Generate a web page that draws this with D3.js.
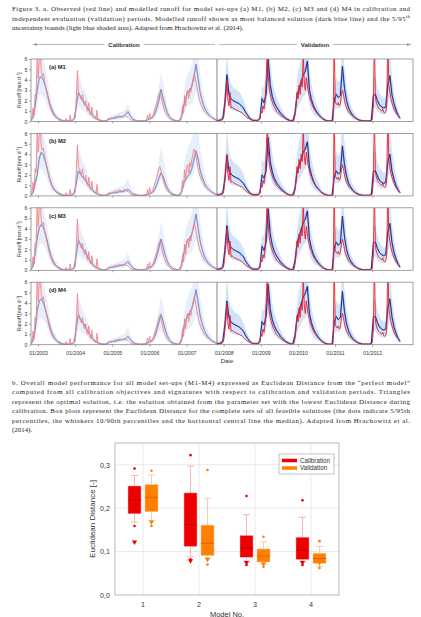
<!DOCTYPE html>
<html>
<head>
<meta charset="utf-8">
<script src="https://cdn.jsdelivr.net/npm/d3@7"></script>
<style>
body { margin: 0; background: #fff; }
svg { display: block; }
</style>
</head>
<body>
<svg id="fig" width="421" height="617"></svg>
<script>
// ---- observed runoff, 10-day steps from late Oct 2002 (one hydrological year per row) ----
var obsRunoff = [
  0.1,0.3,1.3,0.6,2.6,2.3,6.5,4.2,5.8,6.5,4.8,4.4,4.6,3.9,3.4,3.0,2.5,2.0,1.6,1.3,1.0,0.8,0.6,0.5,0.4,0.3,0.2,0.15,0.1,0.05,0.05,0.1,0.05,0.05,0.3,0.1,
  0.05,0.05,0.6,0.05,0.1,0.1,0.2,0.4,2.5,4.9,2.8,2.6,2.3,2.1,2.6,1.8,1.5,2.0,1.2,1.0,1.8,0.8,0.6,1.4,0.5,0.35,0.3,0.2,1.1,0.15,0.1,0.05,0.05,0.05,0.05,0.05,
  0.05,0.05,0.2,0.3,0.25,0.3,0.25,0.3,0.4,0.45,0.5,0.45,0.5,0.5,0.6,0.5,0.45,0.5,0.55,0.6,0.5,0.45,0.4,0.3,0.2,0.15,0.1,0.05,0.05,0.05,0.05,0.05,0.05,0.05,0.05,0.05,
  0.05,0.05,0.1,0.05,0.1,0.6,0.2,0.8,0.3,0.3,0.5,0.8,1.2,1.5,1.8,2.2,2.6,2.8,2.5,2.0,1.6,1.2,0.9,0.7,0.5,0.4,0.3,0.2,0.15,0.1,0.05,0.05,0.05,0.05,0.05,0.05,
  0.05,0.1,0.3,1.5,0.8,2.5,1.5,2.8,3.0,2.2,3.2,2.8,3.5,4.0,4.5,4.3,3.8,3.2,2.7,2.2,1.9,1.6,1.4,1.2,1.0,0.9,0.8,0.7,0.6,0.5,0.45,0.4,0.3,0.25,0.2,0.15,
  0.1,0.1,0.1,0.1,0.15,0.1,0.2,0.5,1.5,2.5,4.0,2.0,1.5,2.8,1.3,1.4,1.3,1.2,1.2,1.1,1.1,1.0,1.0,0.9,0.9,0.8,0.7,0.6,0.5,0.4,0.35,0.3,0.25,0.2,0.15,0.1,
  0.1,0.1,0.1,0.1,0.1,0.15,0.3,1.0,0.8,1.5,1.2,2.0,4.0,7.0,4.5,3.2,2.6,2.2,1.9,1.6,1.4,1.2,1.0,0.9,0.8,0.7,0.6,0.5,0.45,0.4,0.3,0.25,0.2,0.15,0.1,0.1,
  0.05,0.05,0.05,0.1,0.6,1.5,2.8,2.2,3.5,2.6,4.0,3.3,6.5,3.8,3.0,4.2,3.5,2.8,2.4,2.0,1.8,1.5,1.3,1.1,1.0,0.8,0.7,0.6,0.5,0.4,0.3,0.25,0.2,0.15,0.1,0.1,
  0.05,0.05,0.05,0.05,0.05,0.1,8,2.0,1.7,1.6,1.8,1.5,1.7,2.5,3.0,2.6,2.0,1.6,1.3,1.1,0.9,0.8,0.7,0.6,0.5,0.4,0.35,0.3,0.25,0.2,0.15,0.1,0.1,0.05,0.05,0.05,
  0.05,0.05,0.05,0.05,0.05,0.05,0.1,0.2,1.5,8,2.2,1.8,1.5,1.3,1.2,1.1,1.0,1.2,0.9,0.8,0.9,1.5,8,3.5,2.8,2.2,1.8,1.5,1.2,1.0,0.8,0.7,0.6,0.4,null,null
];

// ---- modelled runoff (most balanced solution), 20-day steps, one row per year ----
var modM1 = [
  0.1,0.4,1.5,3.0,4.2,4.3,4.0,3.4,2.6,1.8,1.2,0.8,0.5,0.3,0.2,0.1,0.05,0.05,
  0.05,0.05,0.1,0.3,1.5,2.8,2.4,2.0,1.8,1.5,1.1,0.8,0.6,0.4,0.25,0.15,0.1,0.05,
  0.05,0.1,0.25,0.3,0.3,0.35,0.4,0.45,0.45,0.5,0.7,0.95,0.6,0.3,0.15,0.1,0.05,0.05,
  0.05,0.05,0.1,0.2,0.3,0.4,0.7,1.3,2.0,3.1,2.3,1.5,0.9,0.5,0.3,0.15,0.1,0.05,
  0.1,0.5,1.5,2.2,2.8,3.0,3.4,4.2,5.5,4.2,2.8,2.0,1.4,1.0,0.7,0.5,0.35,0.25,
  0.1,0.1,0.15,0.3,1.8,4.5,2.6,2.2,2.0,1.9,1.8,1.7,1.5,1.3,0.9,0.6,0.35,0.15,
  0.1,0.1,0.1,0.3,2.2,1.8,2.6,6.0,3.5,2.4,1.8,1.4,1.1,0.8,0.6,0.4,0.25,0.15,
  0.05,0.1,0.8,2.5,3.2,3.8,4.5,4.8,5.8,3.0,2.1,1.5,1.1,0.8,0.55,0.35,0.2,0.1,
  0.05,0.05,0.05,2.0,2.6,2.3,2.5,5.3,3.2,2.0,1.3,0.9,0.6,0.4,0.25,0.15,0.1,0.05,
  0.05,0.05,0.05,0.1,2.5,2.6,2.0,1.6,1.4,1.3,1.4,3.5,4.4,2.6,1.7,1.1,0.6,0.3
];
var modM2 = [
  0.1,0.3,1.2,2.0,3.6,4.2,3.9,3.3,2.5,1.7,1.1,0.7,0.45,0.3,0.2,0.1,0.05,0.05,
  0.05,0.05,0.1,0.3,1.3,2.4,2.1,1.8,1.6,1.3,1.0,0.7,0.5,0.35,0.2,0.12,0.08,0.05,
  0.05,0.1,0.2,0.25,0.3,0.3,0.35,0.4,0.4,0.45,0.55,0.6,0.45,0.25,0.15,0.1,0.05,0.05,
  0.05,0.05,0.1,0.15,0.25,0.35,0.6,1.1,1.7,2.2,1.9,1.3,0.8,0.45,0.25,0.15,0.1,0.05,
  0.1,0.4,1.2,1.6,1.9,2.1,2.6,3.5,4.3,3.6,2.5,1.8,1.3,0.9,0.65,0.45,0.3,0.2,
  0.1,0.1,0.15,0.3,1.6,3.9,2.4,2.1,1.9,1.8,1.7,1.6,1.4,1.2,0.85,0.55,0.3,0.15,
  0.1,0.1,0.1,0.3,2.0,1.7,2.4,5.6,3.3,2.3,1.7,1.3,1.0,0.75,0.55,0.35,0.2,0.12,
  0.05,0.1,0.7,2.3,3.0,3.5,4.2,4.5,5.2,2.8,2.0,1.4,1.0,0.75,0.5,0.3,0.2,0.1,
  0.05,0.05,0.05,1.8,2.4,2.1,2.3,4.8,3.0,1.9,1.2,0.85,0.55,0.35,0.22,0.12,0.08,0.05,
  0.05,0.05,0.05,0.1,2.3,2.4,1.9,1.5,1.3,1.2,1.3,3.2,4.0,2.4,1.6,1.0,0.55,0.3
];
var modM3 = [
  0.1,0.4,1.6,3.1,4.1,4.4,4.1,3.5,2.7,1.9,1.2,0.8,0.5,0.3,0.2,0.1,0.05,0.05,
  0.05,0.05,0.1,0.3,1.6,2.9,2.5,2.1,1.8,1.5,1.1,0.8,0.55,0.35,0.22,0.14,0.08,0.05,
  0.05,0.1,0.25,0.3,0.3,0.35,0.4,0.45,0.5,0.5,0.65,0.85,0.55,0.3,0.15,0.1,0.05,0.05,
  0.05,0.05,0.1,0.2,0.3,0.45,0.75,1.4,2.1,3.0,2.3,1.5,0.9,0.5,0.3,0.15,0.1,0.05,
  0.1,0.5,1.6,2.3,2.9,3.1,3.5,4.3,5.4,4.1,2.8,2.0,1.4,1.0,0.7,0.5,0.35,0.25,
  0.1,0.1,0.15,0.35,1.9,4.3,2.6,2.2,2.0,1.9,1.8,1.7,1.5,1.3,0.9,0.6,0.35,0.15,
  0.1,0.1,0.1,0.35,2.3,1.9,2.7,5.9,3.5,2.4,1.8,1.4,1.1,0.8,0.6,0.4,0.25,0.15,
  0.05,0.1,0.9,2.6,3.3,3.9,4.6,4.9,5.7,3.0,2.1,1.5,1.1,0.8,0.55,0.35,0.2,0.1,
  0.05,0.05,0.05,2.1,2.7,2.4,2.6,5.2,3.2,2.0,1.3,0.9,0.6,0.4,0.25,0.15,0.1,0.05,
  0.05,0.05,0.05,0.1,2.6,2.7,2.1,1.7,1.5,1.4,1.5,3.6,4.5,2.7,1.7,1.1,0.6,0.3
];
var modM4 = [
  0.1,0.4,1.5,3.2,4.2,4.4,4.0,3.4,2.6,1.9,1.2,0.8,0.5,0.3,0.2,0.1,0.05,0.05,
  0.05,0.05,0.1,0.3,1.7,2.9,2.5,2.1,1.9,1.5,1.1,0.8,0.55,0.35,0.22,0.14,0.08,0.05,
  0.05,0.1,0.25,0.3,0.3,0.35,0.4,0.45,0.5,0.5,0.6,0.8,0.55,0.3,0.15,0.1,0.05,0.05,
  0.05,0.05,0.1,0.2,0.3,0.45,0.8,1.4,2.1,2.9,2.3,1.5,0.9,0.5,0.3,0.15,0.1,0.05,
  0.1,0.5,1.6,2.3,2.8,3.1,3.5,4.2,5.3,4.1,2.8,2.0,1.4,1.0,0.7,0.5,0.35,0.25,
  0.1,0.1,0.15,0.35,1.9,4.2,2.6,2.2,2.0,1.9,1.8,1.7,1.5,1.3,0.9,0.6,0.35,0.15,
  0.1,0.1,0.1,0.35,2.2,1.9,2.7,5.8,3.4,2.4,1.8,1.4,1.1,0.8,0.6,0.4,0.25,0.15,
  0.05,0.1,0.9,2.6,3.3,3.9,4.6,4.9,5.6,3.0,2.1,1.5,1.1,0.8,0.55,0.35,0.2,0.1,
  0.05,0.05,0.05,2.1,2.7,2.4,2.6,5.1,3.2,2.0,1.3,0.9,0.6,0.4,0.25,0.15,0.1,0.05,
  0.05,0.05,0.05,0.1,2.6,2.7,2.1,1.7,1.5,1.4,1.5,3.5,4.4,2.7,1.7,1.1,0.6,0.3
];

// ---- 5/95th uncertainty bounds, 20-day steps ----
var bandLo = [
  0,0.1,0.6,1.5,2.5,2.6,2.4,2.0,1.5,1.0,0.6,0.4,0.25,0.15,0.1,0.05,0,0,
  0,0,0.05,0.1,0.7,1.5,1.3,1.1,1.0,0.8,0.6,0.4,0.3,0.2,0.1,0.05,0,0,
  0,0.03,0.1,0.15,0.15,0.15,0.2,0.2,0.2,0.25,0.35,0.5,0.3,0.15,0.05,0.03,0,0,
  0,0,0.03,0.1,0.15,0.2,0.35,0.7,1.1,1.6,1.2,0.8,0.5,0.25,0.15,0.05,0.03,0,
  0.03,0.2,0.7,1.1,1.5,1.6,1.8,2.3,3.0,2.3,1.5,1.0,0.7,0.5,0.35,0.25,0.15,0.1,
  0.03,0.03,0.05,0.1,0.9,2.4,1.4,1.1,1.0,1.0,0.9,0.9,0.8,0.6,0.4,0.25,0.15,0.05,
  0.03,0.03,0.03,0.1,1.0,0.9,1.3,3.2,1.8,1.2,0.9,0.7,0.55,0.4,0.3,0.2,0.1,0.05,
  0,0.03,0.3,1.2,1.6,2.0,2.4,2.6,3.0,1.5,1.0,0.7,0.5,0.4,0.25,0.15,0.1,0.03,
  0,0,0,0.9,1.3,1.2,1.3,2.8,1.6,1.0,0.6,0.45,0.3,0.2,0.12,0.06,0.03,0,
  0,0,0,0.03,1.3,1.3,1.0,0.8,0.7,0.7,0.7,1.8,2.3,1.4,0.9,0.55,0.3,0.15
];
var bandHi = [
  0.3,0.8,2.8,5.0,6.5,6.5,6.0,5.0,4.0,2.8,1.9,1.3,0.9,0.6,0.4,0.25,0.15,0.1,
  0.1,0.15,0.3,0.7,3.0,4.5,4.0,3.3,3.0,2.5,1.8,1.3,1.0,0.7,0.45,0.3,0.2,0.1,
  0.1,0.2,0.5,0.6,0.6,0.7,0.8,0.9,0.9,1.0,1.3,1.7,1.1,0.6,0.3,0.2,0.1,0.1,
  0.1,0.15,0.25,0.4,0.6,0.8,1.3,2.3,3.4,4.6,3.8,2.6,1.6,0.9,0.6,0.3,0.2,0.1,
  0.3,1.0,2.8,3.8,4.6,5.0,5.5,6.5,7.5,6.5,4.6,3.3,2.3,1.7,1.2,0.9,0.6,0.45,
  0.3,0.3,0.4,0.7,3.2,6.5,4.3,3.6,3.3,3.1,3.0,2.8,2.5,2.1,1.5,1.0,0.6,0.35,
  0.3,0.3,0.3,0.7,3.5,3.2,4.5,7.5,5.8,4.0,3.0,2.4,1.9,1.4,1.0,0.7,0.45,0.3,
  0.2,0.3,1.5,4.0,5.2,6.0,7.0,7.5,7.5,5.0,3.5,2.6,1.9,1.4,1.0,0.6,0.4,0.25,
  0.15,0.15,0.15,3.5,4.3,3.8,4.0,7.5,5.2,3.4,2.2,1.6,1.1,0.8,0.5,0.3,0.2,0.15,
  0.15,0.15,0.15,0.3,4.2,4.3,3.3,2.7,2.4,2.2,2.3,5.8,7.0,4.4,2.9,1.9,1.1,0.6
];

var panelLabels = ["(a) M1", "(b) M2", "(c) M3", "(d) M4"];
var panelModels = [modM1, modM2, modM3, modM4];
var tickYears = [2003, 2004, 2005, 2006, 2007, 2008, 2009, 2010, 2011, 2012];
var runoffTicks = [0, 1, 2, 3, 4, 5, 6];
var seriesStart = 2002.81;       // first value, decimal year
var validationStart = 2007.82;   // end of calibration period

// ---- box plot data: [p5, p10, q25, median, q75, p90, p95] ----
var modelNo = ["1", "2", "3", "4"];
var calStats = [
  [0.159, 0.168, 0.187, 0.219, 0.251, 0.275, 0.291],
  [0.082, 0.088, 0.112, 0.162, 0.235, 0.297, 0.322],
  [0.069, 0.078, 0.087, 0.108, 0.137, 0.185, 0.228],
  [0.069, 0.078, 0.082, 0.103, 0.133, 0.179, 0.218]
];
var valStats = [
  [0.159, 0.171, 0.192, 0.225, 0.254, 0.276, 0.286],
  [0.070, 0.085, 0.091, 0.119, 0.161, 0.222, 0.288],
  [0.065, 0.071, 0.076, 0.090, 0.106, 0.122, 0.134],
  [0.062, 0.066, 0.073, 0.084, 0.096, 0.112, 0.124]
];
var calOptimal = [0.122, 0.079, 0.075, 0.075];
var valOptimal = [0.168, 0.082, 0.072, 0.075];
var edTicks = [0, 0.1, 0.2, 0.3];

var svg = d3.select("#fig");

// ---------- captions ----------
function caption(lines, y0, lh, x0, x1) {
  lines.forEach(function(l, i) {
    var t = svg.append("text")
      .attr("x", x0).attr("y", y0 + i * lh)
      .attr("font-family", "Liberation Serif, Times New Roman, serif")
      .attr("font-size", 6.9).attr("fill", "#222");
    if (l.sup) {
      t.append("tspan").text(l.text);
      t.append("tspan").attr("font-size", 4.5).attr("dy", -2.5).text(l.sup);
    } else {
      t.text(l.text);
    }
    if (l.justify) t.attr("textLength", x1 - x0).attr("lengthAdjust", "spacing");
  });
}
caption([
  {text: "Figure 3. a. Observed (red line) and modelled runoff for model set-ups (a) M1, (b) M2, (c) M3 and (d) M4 in calibration and", justify: true},
  {text: "independent evaluation (validation) periods. Modelled runoff shown as most balanced solution (dark blue line) and the 5/95", sup: "th", justify: true},
  {text: "uncertainty bounds (light blue shaded area). Adapted from Hrachowitz et al. (2014)."}
], 11, 9.6, 12, 410);

caption([
  {text: "b. Overall model performance for all model set-ups (M1-M4) expressed as Euclidean Distance from the \u201Cperfect model\u201D", justify: true},
  {text: "computed from all calibration objectives and signatures with respect to calibration and validation periods. Triangles", justify: true},
  {text: "represent the optimal solution, i.e. the solution obtained from the parameter set with the lowest Euclidean Distance during", justify: true},
  {text: "calibration. Box plots represent the Euclidean Distance for the complete sets of all feasible solutions (the dots indicate 5/95th", justify: true},
  {text: "percentiles, the whiskers 10/90th percentiles and the horizontal central line the median). Adapted from Hrachowitz et al.", justify: true},
  {text: "(2014)."}
], 384.5, 9.55, 12, 410);

// ---------- hydrograph panels ----------
var x = d3.scaleLinear().domain([2002.81, 2013.1]).range([31, 413]);
var panelTop = 59, panelH = 62.5, panelStep = 74.4;
var sans = "Liberation Sans, Arial, sans-serif";

var obsPts = obsRunoff.map(function(v, i) { return {t: seriesStart + i / 36, v: v}; });

panelModels.forEach(function(mod, p) {
  var top = panelTop + p * panelStep;
  var y = d3.scaleLinear().domain([0, 6]).range([top + panelH, top]);
  var g = svg.append("g");

  g.append("clipPath").attr("id", "clip" + p)
    .append("rect").attr("x", x.range()[0]).attr("y", top)
    .attr("width", x.range()[1] - x.range()[0]).attr("height", panelH);
  var pg = g.append("g").attr("clip-path", "url(#clip" + p + ")");

  var modPts = mod.map(function(v, k) {
    return {t: seriesStart + k / 18, v: v, lo: bandLo[k], hi: bandHi[k]};
  });

  pg.append("path").datum(modPts)
    .attr("fill", "#d2e2f7")
    .attr("d", d3.area().x(d => x(d.t)).y0(d => y(d.lo)).y1(d => y(d.hi)));
  pg.append("path").datum(modPts)
    .attr("fill", "none").attr("stroke", "#7b9be3").attr("stroke-width", 1.8).attr("stroke-opacity", 0.55)
    .attr("d", d3.line().x(d => x(d.t)).y(d => y(d.v)));
  pg.append("path").datum(modPts)
    .attr("fill", "none").attr("stroke", "#1b2a8c").attr("stroke-width", 1)
    .attr("d", d3.line().x(d => x(d.t)).y(d => y(d.v)));
  pg.append("path").datum(obsPts)
    .attr("fill", "none").attr("stroke", "#ec1c24").attr("stroke-width", 0.9)
    .attr("d", d3.line().defined(d => d.v != null).x(d => x(d.t)).y(d => y(d.v)));

  // calibration half appears faded
  pg.append("rect")
    .attr("x", x.range()[0]).attr("y", top)
    .attr("width", x(validationStart) - x.range()[0]).attr("height", panelH)
    .attr("fill", "#fff").attr("fill-opacity", 0.45);

  // divider between periods
  g.append("line")
    .attr("x1", x(validationStart)).attr("x2", x(validationStart))
    .attr("y1", top).attr("y2", top + panelH)
    .attr("stroke", "#666").attr("stroke-width", 0.8);

  // frame
  g.append("rect").attr("x", x.range()[0]).attr("y", top)
    .attr("width", x.range()[1] - x.range()[0]).attr("height", panelH)
    .attr("fill", "none").attr("stroke", "#8a8a8a").attr("stroke-width", 0.8);

  // y axis
  var ya = g.append("g").attr("transform", "translate(" + x.range()[0] + ",0)")
    .call(d3.axisLeft(y).tickValues(runoffTicks).tickFormat(d3.format("d")).tickSize(2).tickPadding(1.5));
  ya.select(".domain").remove();
  ya.selectAll("line").attr("stroke", "#555").attr("stroke-width", 0.5);
  ya.selectAll("text").attr("font-family", sans).attr("font-size", 5.2).attr("fill", "#333");

  // x ticks
  var xa = g.append("g").attr("transform", "translate(0," + (top + panelH) + ")")
    .call(d3.axisBottom(x).tickValues(tickYears).tickSize(2)
      .tickFormat(p === 3 ? (d => "01/" + d) : (d => "")));
  xa.select(".domain").remove();
  xa.selectAll("line").attr("stroke", "#555").attr("stroke-width", 0.5);
  xa.selectAll("text").attr("font-family", sans).attr("font-size", 5.2).attr("fill", "#333").attr("dy", "1.05em");

  // y title
  var yt = g.append("text")
    .attr("transform", "translate(20.5," + (top + panelH / 2) + ") rotate(-90)")
    .attr("text-anchor", "middle").attr("font-family", sans).attr("font-size", 5.2).attr("fill", "#333");
  yt.append("tspan").text("Runoff [mm d");
  yt.append("tspan").attr("font-size", 3.6).attr("dy", -2).text("-1");
  yt.append("tspan").attr("dy", 2).text("]");

  // panel label
  g.append("text").attr("x", 49).attr("y", top + 10)
    .attr("font-family", sans).attr("font-weight", "bold").attr("font-size", 5.8).attr("fill", "#222")
    .text(panelLabels[p]);
});

svg.append("text").attr("x", (x.range()[0] + x.range()[1]) / 2 + 5).attr("y", panelTop + 3 * panelStep + panelH + 18)
  .attr("text-anchor", "middle").attr("font-family", sans).attr("font-size", 6).attr("fill", "#333").text("Date");

// period header arrows
function periodHeader(label, t0, t1, arrowLeft) {
  var hy = 44.5;
  var x0 = x(t0) + 2, x1 = x(t1) - 2, xm = (x(t0) + x(t1)) / 2;
  var tx = svg.append("text").attr("x", xm).attr("y", hy + 2)
    .attr("text-anchor", "middle").attr("font-family", sans).attr("font-weight", "bold")
    .attr("font-size", 6).attr("fill", "#333").text(label);
  var w = tx.node().getComputedTextLength() / 2 + 4;
  svg.append("line").attr("x1", x0).attr("x2", xm - w).attr("y1", hy).attr("y2", hy)
    .attr("stroke", "#9a9a9a").attr("stroke-width", 0.7);
  svg.append("line").attr("x1", xm + w).attr("x2", x1).attr("y1", hy).attr("y2", hy)
    .attr("stroke", "#9a9a9a").attr("stroke-width", 0.7);
  var ax = arrowLeft ? x0 : x1, s = arrowLeft ? 1 : -1;
  svg.append("path")
    .attr("d", "M" + ax + "," + hy + "L" + (ax + s * 4) + "," + (hy - 1.5) + "L" + (ax + s * 4) + "," + (hy + 1.5) + "Z")
    .attr("fill", "#9a9a9a");
}
periodHeader("Calibration", seriesStart, validationStart, true);
periodHeader("Validation", validationStart, 2013.1, false);

// ---------- box plot ----------
var bx = d3.scaleBand().domain(modelNo).range([115, 339]);
var by = d3.scaleLinear().domain([0, 0.35]).range([595, 443]);
var bg = svg.append("g");

bg.selectAll(".hgrid").data(edTicks.slice(1)).enter().append("line")
  .attr("x1", 115).attr("x2", 339).attr("y1", d => by(d)).attr("y2", d => by(d))
  .attr("stroke", "#e4e4e4").attr("stroke-width", 0.8);
bg.selectAll(".vgrid").data(modelNo).enter().append("line")
  .attr("x1", d => bx(d) + bx.bandwidth() / 2).attr("x2", d => bx(d) + bx.bandwidth() / 2)
  .attr("y1", 443).attr("y2", 595)
  .attr("stroke", "#e4e4e4").attr("stroke-width", 0.8);

var groups = [
  {name: "Calibration", stats: calStats, opt: calOptimal, fill: "#ee0000", dark: "#b80000", light: "#f0a2a2", dx: -8.5},
  {name: "Validation", stats: valStats, opt: valOptimal, fill: "#ff8000", dark: "#d25a00", light: "#f4c29a", dx: 8.5}
];
var boxW = 13;

groups.forEach(function(gr) {
  modelNo.forEach(function(m, i) {
    var s = gr.stats[i];
    var cx = bx(m) + bx.bandwidth() / 2 + gr.dx;
    [[s[1], s[2]], [s[4], s[5]]].forEach(function(w) {
      bg.append("line").attr("x1", cx).attr("x2", cx).attr("y1", by(w[0])).attr("y2", by(w[1]))
        .attr("stroke", gr.light).attr("stroke-width", 0.8);
    });
    [s[1], s[5]].forEach(function(v) {
      bg.append("line").attr("x1", cx - 3.5).attr("x2", cx + 3.5).attr("y1", by(v)).attr("y2", by(v))
        .attr("stroke", gr.light).attr("stroke-width", 0.8);
    });
    bg.append("rect").attr("x", cx - boxW / 2).attr("y", by(s[4]))
      .attr("width", boxW).attr("height", by(s[2]) - by(s[4]))
      .attr("fill", gr.fill).attr("stroke", gr.light).attr("stroke-width", 0.5);
    bg.append("line").attr("x1", cx - boxW / 2).attr("x2", cx + boxW / 2).attr("y1", by(s[3])).attr("y2", by(s[3]))
      .attr("stroke", gr.dark).attr("stroke-width", 0.8);
    [s[0], s[6]].forEach(function(v) {
      bg.append("circle").attr("cx", cx).attr("cy", by(v)).attr("r", 1.3).attr("fill", gr.fill);
    });
    bg.append("path")
      .attr("transform", "translate(" + cx + "," + by(gr.opt[i]) + ") rotate(180)")
      .attr("d", d3.symbol(d3.symbolTriangle, 12)())
      .attr("fill", gr.fill);
  });
});

bg.append("rect").attr("x", 115).attr("y", 443).attr("width", 224).attr("height", 152)
  .attr("fill", "none").attr("stroke", "#a8a8a8").attr("stroke-width", 0.8);

var eya = bg.append("g").attr("transform", "translate(115,0)")
  .call(d3.axisLeft(by).tickValues(edTicks).tickSize(0).tickPadding(5)
    .tickFormat(d => d3.format(".1f")(d).replace(".", ",")));
eya.select(".domain").remove();
eya.selectAll("text").attr("font-family", sans).attr("font-size", 7.2).attr("fill", "#333");

var exa = bg.append("g").attr("transform", "translate(0,595)")
  .call(d3.axisBottom(bx).tickSize(0).tickPadding(7));
exa.select(".domain").remove();
exa.selectAll("text").attr("font-family", sans).attr("font-size", 7.2).attr("fill", "#333");

bg.append("text").attr("transform", "translate(95,519) rotate(-90)")
  .attr("text-anchor", "middle").attr("font-family", sans).attr("font-size", 8).attr("fill", "#333")
  .text("Euclidean Distance [-]");
bg.append("text").attr("x", 227).attr("y", 616.5)
  .attr("text-anchor", "middle").attr("font-family", sans).attr("font-size", 7.5).attr("fill", "#333")
  .text("Model No.");

// legend
var lg = bg.append("g").attr("transform", "translate(279,454)");
lg.append("rect").attr("width", 55).attr("height", 20).attr("fill", "#fff")
  .attr("stroke", "#999").attr("stroke-width", 0.6);
groups.forEach(function(gr, i) {
  lg.append("line").attr("x1", 3).attr("x2", 18).attr("y1", 6.5 + i * 7.5).attr("y2", 6.5 + i * 7.5)
    .attr("stroke", gr.fill).attr("stroke-width", 3.5);
  lg.append("text").attr("x", 21).attr("y", 8.8 + i * 7.5)
    .attr("font-family", sans).attr("font-size", 6.3).attr("fill", "#333").text(gr.name);
});
</script>
</body>
</html>
